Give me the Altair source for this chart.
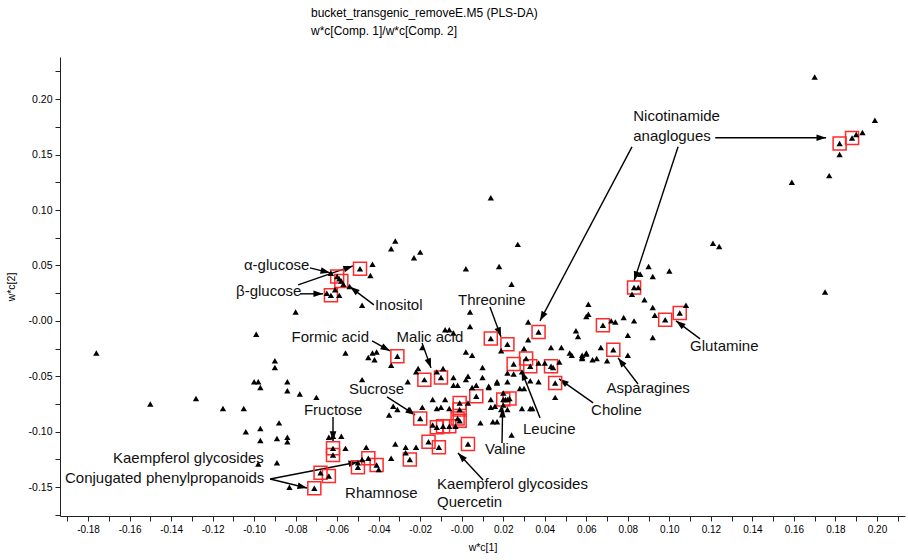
import math
import altair as alt
import pandas as pd

# ---------------- data (w*c[1], w*c[2]) ----------------
pts_left = [
    (-0.176, -0.029), (-0.099, -0.012), (-0.090, -0.036), (-0.090, -0.042),
    (-0.100, -0.055), (-0.098, -0.055), (-0.097, -0.060), (-0.150, -0.075),
    (-0.128, -0.070), (-0.115, -0.079), (-0.105, -0.079), (-0.104, -0.100),
    (-0.097, -0.097), (-0.097, -0.108), (-0.089, -0.106), (-0.088, -0.092),
    (-0.084, -0.105), (-0.084, -0.109), (-0.098, -0.129), (-0.089, -0.128),
    (-0.083, -0.150), (-0.080, 0.008), (-0.084, -0.055), (-0.084, -0.063),
    (-0.078, -0.066), (-0.070, -0.069), (-0.048, -0.053), (-0.064, -0.105),
    (-0.062, -0.104), (-0.058, -0.104), (-0.056, -0.115), (-0.046, -0.114),
    (-0.032, -0.111), (-0.027, -0.114), (-0.022, -0.114), (-0.027, -0.119),
    (-0.034, -0.124), (-0.048, -0.125), (-0.050, -0.128), (-0.040, -0.134),
]
pts_upper = [
    (-0.048, 0.014), (-0.063, 0.043), (-0.059, 0.038), (-0.057, 0.033),
    (-0.061, 0.028), (-0.054, 0.031), (-0.065, 0.025), (-0.059, 0.023),
    (-0.043, 0.051), (-0.044, 0.041), (-0.032, 0.072), (-0.034, 0.065),
    (-0.020, 0.062), (-0.023, 0.057), (0.002, 0.047), (0.018, 0.049),
    (0.027, 0.069), (0.024, 0.033), (0.014, 0.111), (0.004, 0.008),
    (0.004, -0.005),
]
pts_centre = [
    (-0.056, -0.029), (-0.043, -0.029), (-0.041, -0.028), (-0.045, -0.033),
    (-0.042, -0.035), (-0.034, -0.040), (-0.022, -0.046), (-0.021, -0.043),
    (-0.019, -0.024), (-0.008, -0.008), (-0.006, -0.008), (-0.004, -0.011),
    (-0.012, -0.046), (-0.009, -0.043), (-0.026, -0.055), (-0.004, -0.051),
    (-0.004, -0.058), (-0.002, -0.058), (0.003, -0.050), (0.002, -0.053),
    (0.002, -0.028), (0.005, -0.031), (0.010, -0.042), (0.032, -0.001),
    (0.032, -0.017), (0.030, -0.025), (0.019, -0.027), (0.048, -0.024),
    (0.043, -0.024), (0.052, -0.029), (0.058, -0.033), (0.060, -0.029),
    (0.063, -0.035), (0.061, 0.015), (0.061, 0.006), (0.060, 0.004),
    (0.055, -0.009), (0.056, -0.014), (0.033, -0.054), (0.037, -0.055),
    (0.017, -0.055), (0.013, -0.060), (0.007, -0.058), (0.005, -0.060),
    (0.010, -0.051), (0.022, -0.047), (0.025, -0.048), (0.029, -0.046),
    (0.028, -0.061), (0.022, -0.055), (0.045, -0.069), (0.020, -0.065),
    (0.021, -0.071), (0.022, -0.071), (0.020, -0.076), (0.022, -0.080),
    (0.019, -0.080), (0.016, -0.077), (0.014, -0.078), (0.014, -0.071),
    (0.003, -0.074), (0.009, -0.092), (0.015, -0.091), (0.017, -0.091),
    (-0.014, -0.094), (-0.025, -0.080), (-0.033, -0.077), (-0.031, -0.080),
    (-0.019, -0.078), (-0.014, -0.071), (-0.012, -0.079), (-0.008, -0.071),
    (-0.010, -0.078), (-0.035, -0.085), (-0.006, -0.079), (-0.003, -0.095),
    (0.024, -0.103), (0.029, -0.079), (0.033, -0.079), (0.034, -0.079),
]
pts_right = [
    (0.121, 0.070), (0.124, 0.067), (0.090, 0.049), (0.092, 0.040),
    (0.086, 0.042), (0.100, 0.045), (0.085, 0.030), (0.082, 0.024),
    (0.088, 0.019), (0.092, 0.012), (0.093, 0.005), (0.108, 0.014),
    (0.092, -0.015), (0.072, 0.000), (0.074, -0.001), (0.078, 0.003),
    (0.083, 0.000), (0.080, -0.013), (0.080, -0.031), (0.067, -0.024),
    (0.065, -0.034), (0.070, -0.036), (0.060, -0.030), (0.058, -0.031),
    (0.058, -0.034), (0.053, -0.031), (0.037, -0.038), (0.040, -0.038),
    (0.044, -0.042), (0.047, -0.037), (0.030, -0.061), (0.013, -0.059),
    (0.017, -0.056),
]
pts_top = [
    (0.170, 0.220), (0.199, 0.181), (0.193, 0.170), (0.190, 0.168),
    (0.182, 0.150), (0.177, 0.131), (0.159, 0.125), (0.175, 0.026),
]
boxed = [
    (0.188, 0.165), (0.182, 0.160), (-0.049, 0.047), (-0.060, 0.040),
    (-0.058, 0.036), (-0.063, 0.023), (-0.031, -0.032), (-0.018, -0.053),
    (-0.010, -0.051), (0.014, -0.016), (0.022, -0.021), (0.037, -0.010),
    (0.025, -0.039), (0.031, -0.034), (0.033, -0.041), (0.043, -0.041),
    (0.045, -0.056), (0.007, -0.068), (0.020, -0.071), (0.023, -0.070),
    (-0.001, -0.074), (-0.001, -0.080), (-0.002, -0.088), (-0.001, -0.090),
    (-0.009, -0.095), (-0.006, -0.095), (-0.012, -0.096), (-0.020, -0.088),
    (-0.016, -0.109), (-0.011, -0.114), (0.003, -0.111), (-0.025, -0.125),
    (-0.045, -0.124), (-0.050, -0.132), (-0.041, -0.130), (-0.062, -0.115),
    (-0.062, -0.121), (-0.064, -0.140), (-0.068, -0.137), (-0.071, -0.151),
    (0.068, -0.004), (0.073, -0.026), (0.083, 0.030), (0.098, 0.001),
    (0.105, 0.007),
]

label_text = ["Nicotinamide", "anaglogues", "Threonine", "Glutamine", "Asparagines",
              "Choline", "Leucine", "Valine", "Kaempferol glycosides", "Quercetin",
              "Rhamnose", "Sucrose", "Fructose", "Formic acid", "Malic acid",
              "Inositol", "α-glucose", "β-glucose", "Kaempferol glycosides",
              "Conjugated phenylpropanoids"]
label_w1 = [0.0826, 0.0826, -0.0018, 0.1100, 0.0697, 0.0623, 0.0295, 0.0112, -0.0119,
            -0.0119, -0.0562, -0.0543, -0.0760, -0.0820, -0.0314, -0.0418, -0.1049,
            -0.1087, -0.1680, -0.1911]
label_w2 = [0.1850, 0.1670, 0.0190, -0.0226, -0.0605, -0.0803, -0.0975, -0.1155, -0.1471,
            -0.1634, -0.1552, -0.0614, -0.0803, -0.0144, -0.0144, 0.0144, 0.0505, 0.0271,
            -0.1236, -0.1417]

arrow_from = [(0.1221, 0.1652), (0.0820, 0.1570), (0.1042, 0.1570), (0.0136, 0.0126),
              (0.1148, -0.0162), (0.0849, -0.0569), (0.0633, -0.0740), (0.0377, -0.0875),
              (0.0194, -0.1101), (0.0103, -0.1435), (-0.0360, -0.0686), (-0.0620, -0.0866),
              (-0.0432, -0.0181), (-0.0191, -0.0199), (-0.0423, 0.0144), (-0.0731, 0.0478),
              (-0.0788, 0.0325), (-0.0779, 0.0244), (-0.0923, -0.1426), (-0.0923, -0.1426)]
arrow_to = [(0.1755, 0.1652), (0.0377, 0.0000), (0.0830, 0.0361), (0.0189, -0.0144),
            (0.1032, 0.0000), (0.0753, -0.0334), (0.0469, -0.0523), (0.0288, -0.0451),
            (0.0197, -0.0785), (-0.0018, -0.1191), (-0.0225, -0.0848), (-0.0620, -0.1083),
            (-0.0345, -0.0271), (-0.0148, -0.0424), (-0.0538, 0.0307), (-0.0634, 0.0433),
            (-0.0524, 0.0496), (-0.0668, 0.0244), (-0.0499, -0.1273), (-0.0745, -0.1507)]

x_ticks = [-0.19, -0.18, -0.17, -0.16, -0.15, -0.14, -0.13, -0.12, -0.11, -0.10,
           -0.09, -0.08, -0.07, -0.06, -0.05, -0.04, -0.03, -0.02, -0.01, 0.0,
           0.01, 0.02, 0.03, 0.04, 0.05, 0.06, 0.07, 0.08, 0.09, 0.10, 0.11,
           0.12, 0.13, 0.14, 0.15, 0.16, 0.17, 0.18, 0.19, 0.20, 0.21]
y_ticks = [-0.175, -0.15, -0.125, -0.1, -0.075, -0.05, -0.025, 0.0, 0.025, 0.05,
           0.075, 0.1, 0.125, 0.15, 0.175, 0.2, 0.225]

# ---------------- layout ----------------
W, H = 845, 459
XDOM = [-0.1935, 0.2135]
YDOM = [-0.176, 0.238]
FONT = "Liberation Sans"

df_pts = pd.DataFrame(pts_left + pts_upper + pts_centre + pts_right + pts_top, columns=["x", "y"])
df_box = pd.DataFrame(boxed, columns=["x", "y"])
df_lab = pd.DataFrame({"text": label_text, "x": label_w1, "y": label_w2})

ppx = W / (XDOM[1] - XDOM[0])
ppy = H / (YDOM[1] - YDOM[0])
rows = []
for (x0, y0), (x1, y1) in zip(arrow_from, arrow_to):
    ang = math.degrees(math.atan2((x1 - x0) * ppx, (y1 - y0) * ppy)) % 360
    rows.append({"x": x0, "y": y0, "x2": x1, "y2": y1, "hx": x1, "hy": y1, "ang": ang})
df_arr = pd.DataFrame(rows)

xscale = alt.Scale(domain=XDOM, nice=False, zero=False)
yscale = alt.Scale(domain=YDOM, nice=False, zero=False)

x_label_expr = ("abs(round(datum.value*100)) % 2 == 1 ? '' : "
                "((datum.value < 0.001 ? '-' : '') + format(abs(datum.value), '.2f'))")
y_label_expr = ("abs(round(datum.value*1000)) % 50 != 0 ? '' : "
                "((datum.value < 0.001 ? '-' : '') + format(abs(datum.value), '.2f'))")

xaxis = alt.Axis(values=x_ticks, labelExpr=x_label_expr, grid=False, tickSize=5,
                 tickColor="#222", domainColor="#222", labelFont=FONT, labelFontSize=10,
                 labelColor="#000", labelPadding=3, labelOverlap=False, labelFlush=False,
                 titleFont=FONT, titleFontSize=10.5, titleFontWeight="normal",
                 titleColor="#000", titlePadding=8)
yaxis = alt.Axis(values=y_ticks, labelExpr=y_label_expr, grid=False, tickSize=5,
                 tickColor="#222", domainColor="#222", labelFont=FONT, labelFontSize=10.5,
                 labelColor="#000", labelPadding=3, labelOverlap=False, labelFlush=False,
                 titleFont=FONT, titleFontSize=10.5, titleFontWeight="normal",
                 titleColor="#000", titlePadding=12)

X = alt.X("x:Q", scale=xscale, axis=xaxis, title="w*c[1]")
Y = alt.Y("y:Q", scale=yscale, axis=yaxis, title="w*c[2]")

points = alt.Chart(df_pts).mark_point(shape="triangle-up", size=40, filled=True,
                                      color="#000", opacity=1).encode(x=X, y=Y)
box_tri = alt.Chart(df_box).mark_point(shape="triangle-up", size=40, filled=True,
                                       color="#000", opacity=1).encode(x=X, y=Y)
boxes = alt.Chart(df_box).mark_point(shape="square", size=169, filled=False,
                                     stroke="#ff2a2a", strokeWidth=1.5, opacity=1).encode(x=X, y=Y)
lines = alt.Chart(df_arr).mark_rule(color="#000", strokeWidth=1.4).encode(
    x=X, y=Y, x2="x2:Q", y2="y2:Q")
heads = alt.Chart(df_arr).mark_point(shape="M0,0L-0.55,1.6L0.55,1.6Z", size=144,
                                     filled=True, color="#000", opacity=1).encode(
    x=alt.X("hx:Q", scale=xscale, axis=xaxis, title="w*c[1]"),
    y=alt.Y("hy:Q", scale=yscale, axis=yaxis, title="w*c[2]"),
    angle=alt.Angle("ang:Q", scale=None))
labels = alt.Chart(df_lab).mark_text(align="left", baseline="middle", font=FONT,
                                     fontSize=15, color="#111").encode(x=X, y=Y, text="text:N")

chart = alt.layer(lines, heads, boxes, box_tri, points, labels).properties(
    width=W, height=H,
    title=alt.TitleParams(
        text=["bucket_transgenic_removeE.M5 (PLS-DA)", "w*c[Comp. 1]/w*c[Comp. 2]"],
        anchor="start", frame="group", dx=251, offset=19, fontSize=12,
        fontWeight="normal", font=FONT, color="#000", lineHeight=18),
    autosize=alt.AutoSizeParams(type="none"),
    padding={"left": 60, "top": 57, "right": 3, "bottom": 44},
).configure_view(stroke=None)

chart.save("out.html", embed_options={"renderer": "svg", "actions": False})
